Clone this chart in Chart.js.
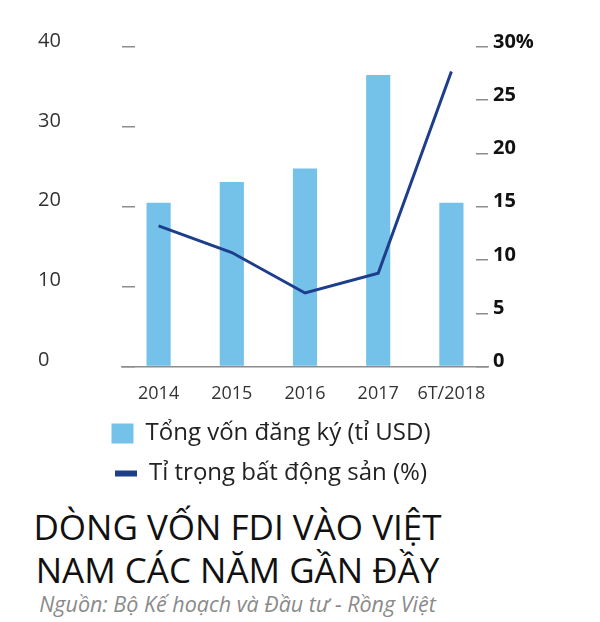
<!DOCTYPE html>
<html>
<head>
<meta charset="utf-8">
<script src="https://cdn.jsdelivr.net/npm/chart.js@4.4.1/dist/chart.umd.min.js"></script>
<style>
  html, body { margin: 0; padding: 0; background: #fff; }
  #wrap { position: relative; width: 600px; height: 622px; overflow: hidden; }
  #fdiChart { position: absolute; left: 0; top: 0; }
  .chart-title {
    position: absolute; left: 0; width: 475px; text-align: center;
    font-family: 'Open Sans', sans-serif; color: #111;
  }
  #titleText { top: 505px; font-size: 35px; line-height: 43px; }
  #sourceText { top: 592px; font-size: 21.5px; line-height: 24px; font-style: italic; color: #8a8a8a; }
</style>
</head>
<body>
<div id="wrap">
  <canvas id="fdiChart" width="600" height="500"></canvas>
  <div id="titleText" class="chart-title">DÒNG VỐN FDI VÀO VIỆT<br>NAM CÁC NĂM GẦN ĐẦY</div>
  <div id="sourceText" class="chart-title">Nguồn: Bộ Kế hoạch và Đầu tư - Rồng Việt</div>
</div>
<script>
const years = ['2014', '2015', '2016', '2017', '6T/2018'];
const fdiCapital = [20.5, 23.1, 24.8, 36.5, 20.5];        // tỉ USD
const realEstateShare = [13.2, 10.7, 6.9, 8.75, 27.7];    // %
const seriesNames = ['Tổng vốn đăng ký (tỉ USD)', 'Tỉ trọng bất động sản (%)'];

const barColor = '#74c1ea';
const lineColor = '#1d3f8b';
const tickGray = '#8c8c8c';
const font = "'Open Sans', sans-serif";

const legendLabels = (chart) => {
  const items = Chart.defaults.plugins.legend.labels.generateLabels(chart);
  items.sort((a, b) => a.datasetIndex - b.datasetIndex);
  items.forEach((it) => {
    const ds = chart.data.datasets[it.datasetIndex];
    if (ds.type === 'line') {
      it.pointStyle = 'line';
      it.lineWidth = 6;
      it.strokeStyle = lineColor;
    } else {
      it.pointStyle = 'rect';
      it.lineWidth = 0;
      it.fillStyle = barColor;
      it.strokeStyle = barColor;
    }
  });
  return items;
};

// legend sits a bit left of the canvas centre in the original
const legendNudge = {
  id: 'legendNudge',
  afterLayout(chart) {
    const lg = chart.legend;
    if (lg) { lg.left -= 23; lg.right -= 23; }
  },
};

new Chart(document.getElementById('fdiChart'), {
  type: 'bar',
  data: {
    labels: years,
    datasets: [
      {
        type: 'bar',
        label: seriesNames[0],
        data: fdiCapital,
        backgroundColor: barColor,
        categoryPercentage: 1,
        barPercentage: 0.33,
        yAxisID: 'y',
        order: 2,
      },
      {
        type: 'line',
        label: seriesNames[1],
        data: realEstateShare,
        borderColor: lineColor,
        backgroundColor: lineColor,
        borderWidth: 3,
        pointRadius: 0,
        tension: 0,
        yAxisID: 'y1',
        order: 1,
      },
    ],
  },
  plugins: [legendNudge],
  options: {
    responsive: false,
    animation: false,
    layout: { padding: { left: 38, right: 50, top: 47, bottom: 4.5 } },
    plugins: {
      tooltip: { enabled: false },
      legend: {
        position: 'bottom',
        labels: {
          usePointStyle: true,
          pointStyleWidth: 22,
          boxHeight: 20,
          padding: 16,
          color: '#222',
          font: { family: font, size: 24 },
          generateLabels: legendLabels,
        },
      },
    },
    scales: {
      x: {
        offset: true,
        grid: { display: true, drawOnChartArea: false, drawTicks: false },
        border: { display: true, color: tickGray, width: 1.5 },
        ticks: { color: '#333', padding: 17, maxRotation: 0, minRotation: 0, autoSkip: false, font: { family: font, size: 18 } },
        afterFit: (scale) => { scale.height = 39; },
      },
      y: {
        position: 'left',
        min: 0,
        max: 40,
        grid: { display: true, drawOnChartArea: false, drawTicks: true, tickLength: -13, color: tickGray, lineWidth: 1.5 },
        border: { display: false },
        ticks: { stepSize: 10, crossAlign: 'far', padding: 0, labelOffset: -6, color: '#333', font: { family: font, size: 20 } },
        afterFit: (scale) => { scale.width = 84; },
      },
      y1: {
        position: 'right',
        min: 0,
        max: 30,
        grid: { display: true, drawOnChartArea: false, drawTicks: true, tickLength: -12, color: tickGray, lineWidth: 1.5 },
        border: { display: false },
        ticks: {
          stepSize: 5,
          padding: 17,
          labelOffset: -5,
          color: '#111',
          font: { family: font, size: 20, weight: 'bold' },
          callback: (v) => (v === 30 ? '30%' : v),
        },
        afterFit: (scale) => { scale.width = 62; },
      },
    },
  },
});
</script>
</body>
</html>
